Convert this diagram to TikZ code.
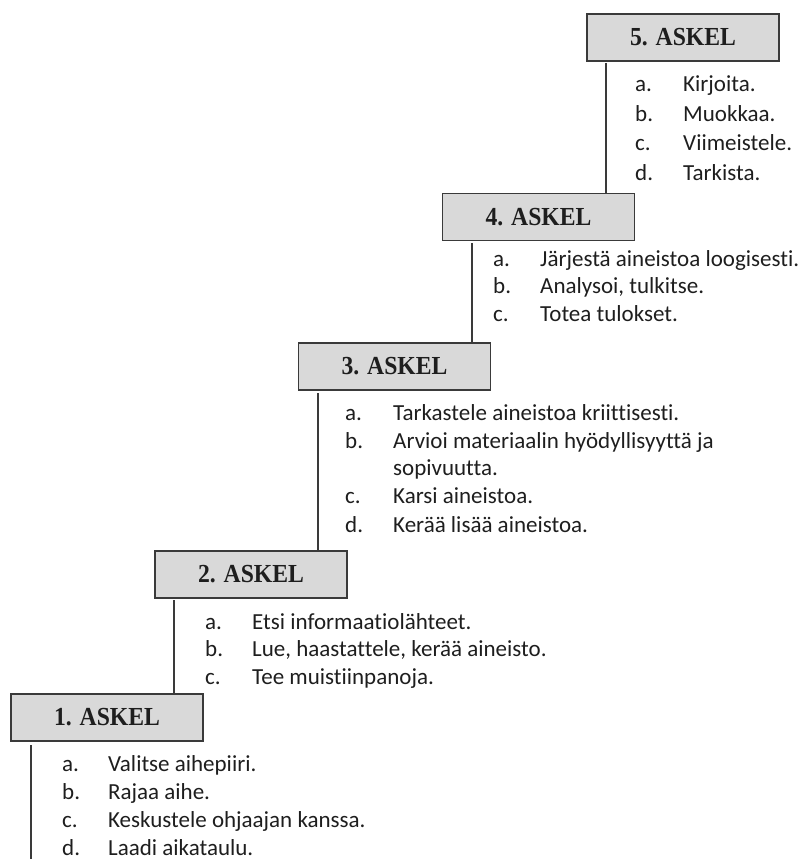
\documentclass[tikz,border=0pt]{standalone}
\usepackage{fontspec}
\usepackage{graphicx}
\setmainfont[Ligatures=NoCommon]{Carlito}
\newfontfamily\headfont{Liberation Serif}
\definecolor{boxfill}{HTML}{D9D9D9}
\definecolor{boxline}{HTML}{3A3A3A}
\definecolor{txt}{HTML}{1E1E1E}
\newcommand{\steptitle}[1]{\scalebox{0.91}[1]{#1}}
\begin{document}
\begin{tikzpicture}[x=1pt,y=-1pt,
  stepbox/.style={draw=boxline, line width=1.3pt, fill=boxfill, minimum width=192pt, minimum height=47pt, inner sep=0pt, font=\headfont\bfseries\fontsize{26}{30}\selectfont, text=txt},
  itemlbl/.style={anchor=base west, inner sep=0pt, font=\fontsize{23}{28}\selectfont, text=txt},
  conn/.style={draw=boxline, line width=1.3pt}]
\useasboundingbox (0,0) rectangle (802,859);
% boxes
\node[stepbox] (b5) at (683,37.5) {\steptitle{5. ASKEL}};
\node[stepbox] (b4) at (538.5,217) {\steptitle{4. ASKEL}};
\node[stepbox] (b3) at (394.5,366.5) {\steptitle{3. ASKEL}};
\node[stepbox] (b2) at (251,574.5) {\steptitle{2. ASKEL}};
\node[stepbox] (b1) at (107,717.5) {\steptitle{1. ASKEL}};
% connectors
\coordinate (c5) at (606,63);
\coordinate (c4) at (472,243);
\coordinate (c3) at (318,393);
\coordinate (c2) at (174,600);
\coordinate (c1) at (31,745);
\coordinate (c0) at (31,859);
\draw[conn] (c5) -- (c5 |- b4.north);
\draw[conn] (c4) -- (c4 |- b3.north);
\draw[conn] (c3) -- (c3 |- b2.north);
\draw[conn] (c2) -- (c2 |- b1.north);
\draw[conn] (c1) -- (c0);
% step 5
\node[itemlbl] (l5a) at (635,92) {a.};
\node[itemlbl] (t5a) at (683,92) {Kirjoita.};
\node[itemlbl] (l5b) at (635,121) {b.};
\node[itemlbl] (t5b) at (683,121) {Muokkaa.};
\node[itemlbl] (l5c) at (635,150.5) {c.};
\node[itemlbl] (t5c) at (683,150.5) {Viimeistele.};
\node[itemlbl] (l5d) at (635,180) {d.};
\node[itemlbl] (t5d) at (683,180) {Tarkista.};
% step 4
\node[itemlbl] (l4a) at (493,266) {a.};
\node[itemlbl] (t4a) at (540,266) {Järjestä aineistoa loogisesti.};
\node[itemlbl] (l4b) at (493,293.5) {b.};
\node[itemlbl] (t4b) at (540,293.5) {Analysoi, tulkitse.};
\node[itemlbl] (l4c) at (493,321) {c.};
\node[itemlbl] (t4c) at (540,321) {Totea tulokset.};
% step 3
\node[itemlbl] (l3a) at (345,420) {a.};
\node[itemlbl] (t3a) at (393,420) {Tarkastele aineistoa kriittisesti.};
\node[itemlbl] (l3b) at (345,448) {b.};
\node[itemlbl] (t3b) at (393,448) {Arvioi materiaalin hyödyllisyyttä ja};
\node[itemlbl] (t3b2) at (393,475.5) {sopivuutta.};
\node[itemlbl] (l3c) at (345,503.5) {c.};
\node[itemlbl] (t3c) at (393,503.5) {Karsi aineistoa.};
\node[itemlbl] (l3d) at (345,532) {d.};
\node[itemlbl] (t3d) at (393,532) {Kerää lisää aineistoa.};
% step 2
\node[itemlbl] (l2a) at (205,629) {a.};
\node[itemlbl] (t2a) at (252,629) {Etsi informaatiolähteet.};
\node[itemlbl] (l2b) at (205,656.5) {b.};
\node[itemlbl] (t2b) at (252,656.5) {Lue, haastattele, kerää aineisto.};
\node[itemlbl] (l2c) at (205,684) {c.};
\node[itemlbl] (t2c) at (252,684) {Tee muistiinpanoja.};
% step 1
\node[itemlbl] (l1a) at (62,771) {a.};
\node[itemlbl] (t1a) at (108,771) {Valitse aihepiiri.};
\node[itemlbl] (l1b) at (62,799) {b.};
\node[itemlbl] (t1b) at (108,799) {Rajaa aihe.};
\node[itemlbl] (l1c) at (62,827) {c.};
\node[itemlbl] (t1c) at (108,827) {Keskustele ohjaajan kanssa.};
\node[itemlbl] (l1d) at (62,855) {d.};
\node[itemlbl] (t1d) at (108,855) {Laadi aikataulu.};
\end{tikzpicture}
\end{document}
